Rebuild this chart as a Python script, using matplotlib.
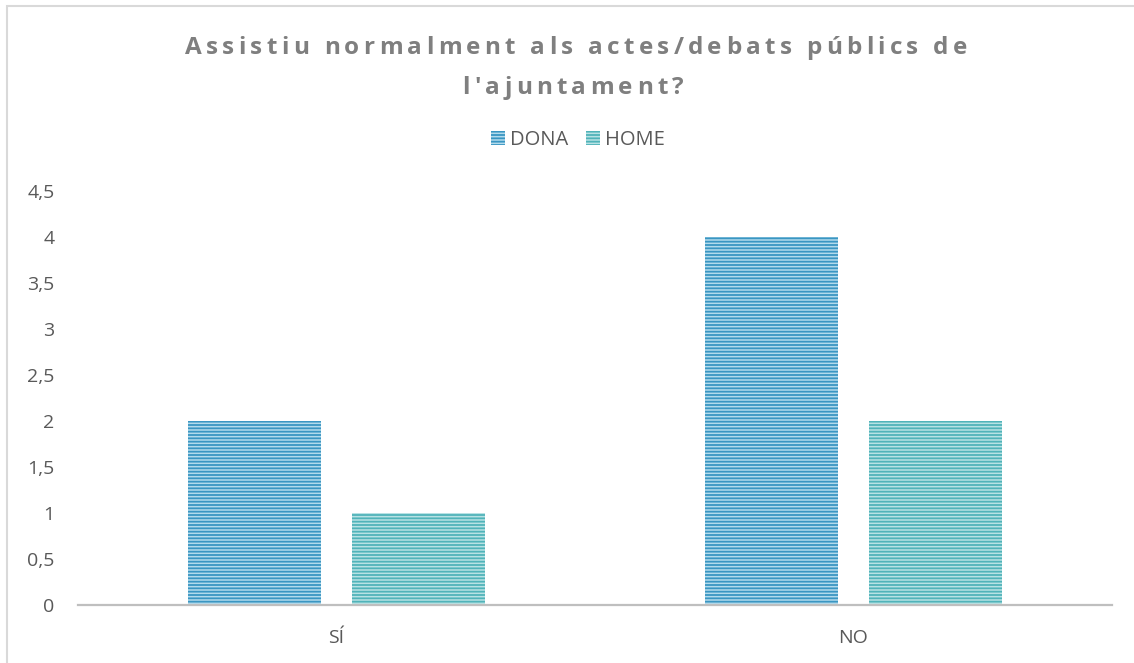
import matplotlib
matplotlib.use("Agg")
import matplotlib.pyplot as plt
import numpy as np
from matplotlib.patches import Rectangle, Patch

categories = ["SÍ", "NO"]
series_names = ["DONA", "HOME"]
dona = [2, 4]
home = [1, 2]
yticks = [0, 0.5, 1, 1.5, 2, 2.5, 3, 3.5, 4, 4.5]
ytick_labels = ["0", "0,5", "1", "1,5", "2", "2,5", "3", "3,5", "4", "4,5"]
title_lines = ["Assistiu normalment als actes/debats públics de", "l'ajuntament?"]

W, H = 1134, 663
plt.rcParams['font.family'] = ['Open Sans', 'DejaVu Sans']
plt.rcParams['hatch.linewidth'] = 1.3

fig = plt.figure(figsize=(W / 100, H / 100), dpi=100)
fig.patch.set_facecolor("white")

# chart border (left and top visible)
fig.add_artist(Rectangle((7 / W, -0.1), 1.2, (H - 6) / H + 0.1, transform=fig.transFigure,
                         fill=False, edgecolor="#d9d9d9", linewidth=1.5))

ax = fig.add_axes([78 / W, (H - 605) / H, 1034 / W, 414 / H])

dona_face, dona_hatch = "#b3dbec", "#3a96c2"
home_face, home_hatch = "#b8e2e4", "#50b3b9"

x = np.arange(len(categories))
bw = 0.257
off = 0.158
ax.bar(x - off, dona, bw, color=dona_face, edgecolor=dona_hatch, hatch="-----", linewidth=0)
ax.bar(x + off, home, bw, color=home_face, edgecolor=home_hatch, hatch="-----", linewidth=0)

ax.set_xlim(-0.5, 1.5)
ax.set_ylim(0, 4.5)
ax.set_yticks(yticks)
ax.set_yticklabels(ytick_labels)
ax.set_xticks(x)
ax.set_xticklabels(categories)
for s in ["top", "right", "left"]:
    ax.spines[s].set_visible(False)
ax.spines["bottom"].set_color("#bfbfbf")
ax.spines["bottom"].set_linewidth(1.6)
ax.tick_params(axis="both", length=0, labelsize=14, labelcolor="#595959")
ax.tick_params(axis="y", pad=17)
ax.tick_params(axis="x", pad=17)

# legend
handles = [Patch(facecolor=dona_face, edgecolor=dona_hatch, hatch="-----", linewidth=0),
           Patch(facecolor=home_face, edgecolor=home_hatch, hatch="-----", linewidth=0)]
leg = fig.legend(handles, series_names, loc="center", bbox_to_anchor=(578 / W, 1 - 140 / H),
                 ncol=2, frameon=False, fontsize=14.5, handlelength=0.7, handleheight=0.7,
                 handletextpad=0.25, columnspacing=0.9, labelcolor="#595959")

# letter-spaced title
renderer = fig.canvas.get_renderer()
tfs = 17.5
tprops = dict(fontsize=tfs, fontweight="bold", color="#7f7f7f")


def text_w(s):
    t = fig.text(0, 0, s, **tprops)
    w = t.get_window_extent(renderer).width
    t.remove()
    return w


bar_w = text_w("||")


def char_widths(s):
    return [text_w("|" + c + "|") - bar_w for c in s]


w1 = char_widths(title_lines[0])
target = 782.0
spacing = (target - sum(w1)) / (len(title_lines[0]) - 1)


def draw_spaced(s, cx, base_y):
    ws = char_widths(s)
    total = sum(ws) + spacing * (len(s) - 1)
    xp = cx - total / 2
    for c, w in zip(s, ws):
        if c != " ":
            fig.text(xp / W, 1 - base_y / H, c, ha="left", va="baseline", **tprops)
        xp += w + spacing


draw_spaced(title_lines[0], 576, 54)
draw_spaced(title_lines[1], 573, 94)

fig.savefig("out.png", dpi=100, facecolor="white")
